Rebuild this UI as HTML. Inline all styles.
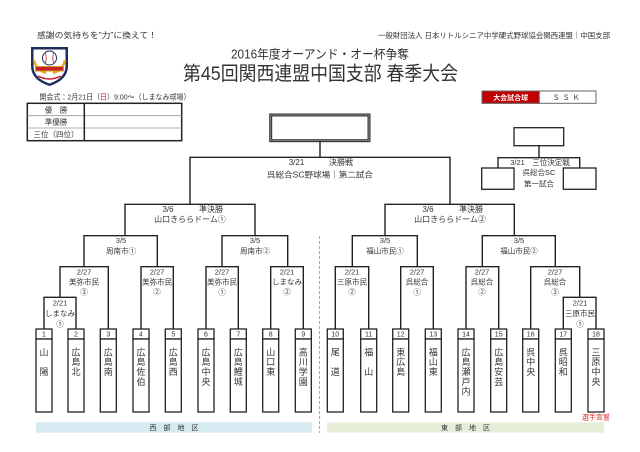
<!DOCTYPE html>
<html><head><meta charset="utf-8">
<style>
html,body{margin:0;padding:0;background:#fff;}
svg{display:block;}
text{font-family:"Liberation Sans","Noto Sans CJK JP",sans-serif;fill:#333;}
</style></head>
<body>
<svg width="640" height="452" viewBox="0 0 640 452" xmlns="http://www.w3.org/2000/svg">
<rect width="640" height="452" fill="#fff"/>

<!-- Header texts -->
<text x="37" y="38" font-size="8" textLength="120" lengthAdjust="spacingAndGlyphs">感謝の気持ちを”力”に換えて！</text>
<text x="378" y="38" font-size="7.5" textLength="232" lengthAdjust="spacingAndGlyphs">一般財団法人 日本リトルシニア中学硬式野球協会関西連盟｜中国支部</text>
<text x="231" y="58.5" font-size="12.5" textLength="178" lengthAdjust="spacingAndGlyphs" fill="#222">2016年度オーアンド・オー杯争奪</text>
<text x="183" y="80" font-size="19.5" textLength="275" lengthAdjust="spacingAndGlyphs" fill="#111">第45回関西連盟中国支部 春季大会</text>

<!-- Logo -->
<g>
  <path d="M31,47 L68,47 L68,66 Q68,80 49.5,86 Q31,80 31,66 Z" fill="#1d2d5c"/>
  <path d="M33.5,49.5 L65.5,49.5 L65.5,66 Q65.5,78 49.5,83.5 Q33.5,78 33.5,66 Z" fill="#fff"/>
  <circle cx="49.5" cy="58" r="7" fill="#fff" stroke="#1d2d5c" stroke-width="1"/>
  <path d="M45,52.5 Q47.5,58 45,63.5 M54,52.5 Q51.5,58 54,63.5" stroke="#c8202a" stroke-width="0.8" fill="none"/>
  <path d="M34,60 Q36,70 46,73 M65,60 Q63,70 53,73" stroke="#e0b020" stroke-width="2.5" fill="none"/>
  <rect x="35" y="66" width="29" height="5.5" fill="#d4a017"/>
  <rect x="36" y="67" width="27" height="3.5" fill="#c8202a"/>
  <path d="M38,76 Q49.5,82 61,76" stroke="#c8202a" stroke-width="1.5" fill="none"/>
</g>

<!-- 開会式 -->
<text x="39.5" y="99.5" font-size="7.5" textLength="151" lengthAdjust="spacingAndGlyphs">開会式：2月21日（<tspan fill="#d00">日</tspan>）9:00～（しまなみ球場）</text>

<!-- Results table -->
<rect x="27.3" y="103.3" width="154.4" height="37.4" fill="#fff" stroke="#222" stroke-width="1.5"/>
<line x1="27.3" y1="115.7" x2="181.7" y2="115.7" stroke="#999" stroke-width="0.8"/>
<line x1="27.3" y1="128" x2="181.7" y2="128" stroke="#999" stroke-width="0.8"/>
<line x1="84.3" y1="103.3" x2="84.3" y2="140.7" stroke="#222" stroke-width="1.5"/>
<text x="56" y="112.3" font-size="7.5" text-anchor="middle">優　勝</text>
<text x="56" y="124.7" font-size="7.5" text-anchor="middle">準優勝</text>
<text x="56" y="137" font-size="7.5" text-anchor="middle">三位（四位）</text>

<!-- Ball box -->
<rect x="482" y="91" width="114" height="12.3" fill="#fff" stroke="#666" stroke-width="1"/>
<rect x="482" y="91" width="57.3" height="12.3" fill="#c00000" stroke="#666" stroke-width="1"/>
<text x="510.7" y="99.8" font-size="7" text-anchor="middle" font-weight="bold" style="fill:#fff">大会試合球</text>
<text x="567.7" y="99.8" font-size="7" text-anchor="middle" letter-spacing="3" fill="#555">ＳＳＫ</text>

<!-- Final box -->
<rect x="270.7" y="115" width="98.3" height="25.7" fill="#fff" stroke="#333" stroke-width="3"/>
<rect x="270.7" y="115" width="98.3" height="25.7" fill="none" stroke="#999" stroke-width="0.8"/>

<!-- Third place -->
<rect x="514" y="127.7" width="49.7" height="18" fill="#fff" stroke="#222" stroke-width="1.3"/>
<rect x="481.7" y="168" width="32.3" height="21.3" fill="#fff" stroke="#222" stroke-width="1.3"/>
<rect x="563.3" y="168" width="32.7" height="21.3" fill="#fff" stroke="#222" stroke-width="1.3"/>
<text x="540" y="165" font-size="7.5" text-anchor="middle">3/21　三位決定戦</text>
<text x="539" y="175" font-size="7.5" text-anchor="middle">呉総合SC</text>
<text x="539" y="186.5" font-size="7.5" text-anchor="middle">第一試合</text>

<!-- Dashed divider -->
<line x1="319.5" y1="236" x2="319.5" y2="433" stroke="#aaa" stroke-width="1" stroke-dasharray="3 2"/>

<!-- Bracket lines -->
<path fill="none" stroke="#222" stroke-width="1.4" d="
M320,140.7 V157.3 M190,204.3 V157.3 H450 V204.3
M125,235.7 V204.3 H255 V235.7
M385,235.7 V204.3 H514.3 V235.7
M84,266.7 V235.7 H157.3 V266.7
M222,266.7 V235.7 H287.7 V266.7
M352.3,266.7 V235.7 H417.3 V266.7
M482.3,266.7 V235.7 H555.3 V266.7
M60,297.3 V266.7 H108.3 V329
M141,329 V266.7 H173.3 V329
M206,329 V266.7 H238.3 V329
M270.7,329 V266.7 H303.3 V329
M335.3,329 V266.7 H368.7 V329
M400.7,329 V266.7 H433.3 V329
M466,329 V266.7 H498.7 V329
M530.7,329 V266.7 H579.7 V297.3
M44,329 V297.3 H76 V329
M563.3,329 V297.3 H596 V329
M539,145.7 V157.7 M498,168 V157.7 H579.7 V168
"/>

<!-- Final labels -->
<text x="296.5" y="165" font-size="8" text-anchor="middle">3/21</text>
<text x="341" y="165" font-size="8" text-anchor="middle">決勝戦</text>
<text x="320" y="177.3" font-size="8" text-anchor="middle" textLength="106" lengthAdjust="spacingAndGlyphs">呉総合SC野球場｜第二試合</text>

<!-- Semifinal labels -->
<text x="168" y="212" font-size="8" text-anchor="middle">3/6</text>
<text x="211" y="212" font-size="8" text-anchor="middle">準決勝</text>
<text x="190" y="222.2" font-size="8" text-anchor="middle">山口きららドーム①</text>
<text x="428" y="212" font-size="8" text-anchor="middle">3/6</text>
<text x="471" y="212" font-size="8" text-anchor="middle">準決勝</text>
<text x="450" y="222.2" font-size="8" text-anchor="middle">山口きららドーム②</text>

<!-- Level 3 labels -->
<g font-size="7.5" text-anchor="middle">
<text x="121" y="242.8">3/5</text><text x="121" y="253.5">周南市①</text>
<text x="255" y="242.8">3/5</text><text x="255" y="253.5">周南市②</text>
<text x="385" y="242.8">3/5</text><text x="385" y="253.5">福山市民①</text>
<text x="519" y="242.8">3/5</text><text x="519" y="253.5">福山市民②</text>
</g>

<!-- Level 2 labels -->
<g font-size="7.5" text-anchor="middle">
<text x="84" y="274.5">2/27</text><text x="84" y="284.5">美弥市民</text><text x="84" y="294.5">③</text>
<text x="157" y="274.5">2/27</text><text x="157" y="284.5">美弥市民</text><text x="157" y="294.5">②</text>
<text x="222" y="274.5">2/27</text><text x="222" y="284.5">美弥市民</text><text x="222" y="294.5">①</text>
<text x="287" y="274.5">2/21</text><text x="287" y="284.5">しまなみ</text><text x="287" y="294.5">②</text>
<text x="352" y="274.5">2/21</text><text x="352" y="284.5">三原市民</text><text x="352" y="294.5">②</text>
<text x="417" y="274.5">2/27</text><text x="417" y="284.5">呉総合</text><text x="417" y="294.5">①</text>
<text x="482" y="274.5">2/27</text><text x="482" y="284.5">呉総合</text><text x="482" y="294.5">②</text>
<text x="555" y="274.5">2/27</text><text x="555" y="284.5">呉総合</text><text x="555" y="294.5">③</text>
</g>

<!-- Level 1 labels -->
<g font-size="7.5" text-anchor="middle">
<text x="60" y="305.5">2/21</text><text x="60" y="315.8">しまなみ</text><text x="60" y="326.5">①</text>
<text x="580" y="305.5">2/21</text><text x="580" y="315.8">三原市民</text><text x="580" y="326.5">①</text>
</g>

<!-- Team boxes -->
<g fill="#fff" stroke="#222" stroke-width="1.3">
<rect x="36" y="329" width="16" height="10"/><rect x="36" y="339" width="16" height="73"/>
<rect x="68" y="329" width="16" height="10"/><rect x="68" y="339" width="16" height="73"/>
<rect x="100.3" y="329" width="16" height="10"/><rect x="100.3" y="339" width="16" height="73"/>
<rect x="133" y="329" width="16" height="10"/><rect x="133" y="339" width="16" height="73"/>
<rect x="165.3" y="329" width="16" height="10"/><rect x="165.3" y="339" width="16" height="73"/>
<rect x="198" y="329" width="16" height="10"/><rect x="198" y="339" width="16" height="73"/>
<rect x="230.3" y="329" width="16" height="10"/><rect x="230.3" y="339" width="16" height="73"/>
<rect x="262.7" y="329" width="16" height="10"/><rect x="262.7" y="339" width="16" height="73"/>
<rect x="295.3" y="329" width="16" height="10"/><rect x="295.3" y="339" width="16" height="73"/>
<rect x="327.3" y="329" width="16" height="10"/><rect x="327.3" y="339" width="16" height="73"/>
<rect x="360.7" y="329" width="16" height="10"/><rect x="360.7" y="339" width="16" height="73"/>
<rect x="392.7" y="329" width="16" height="10"/><rect x="392.7" y="339" width="16" height="73"/>
<rect x="425.3" y="329" width="16" height="10"/><rect x="425.3" y="339" width="16" height="73"/>
<rect x="458" y="329" width="16" height="10"/><rect x="458" y="339" width="16" height="73"/>
<rect x="490.7" y="329" width="16" height="10"/><rect x="490.7" y="339" width="16" height="73"/>
<rect x="522.7" y="329" width="16" height="10"/><rect x="522.7" y="339" width="16" height="73"/>
<rect x="555.3" y="329" width="16" height="10"/><rect x="555.3" y="339" width="16" height="73"/>
<rect x="588" y="329" width="16" height="10"/><rect x="588" y="339" width="16" height="73"/>
</g>

<!-- Team numbers -->
<g font-size="7" text-anchor="middle" fill="#555">
<text x="44" y="336.6">1</text><text x="76" y="336.6">2</text><text x="108.3" y="336.6">3</text>
<text x="141" y="336.6">4</text><text x="173.3" y="336.6">5</text><text x="206" y="336.6">6</text>
<text x="238.3" y="336.6">7</text><text x="270.7" y="336.6">8</text><text x="303.3" y="336.6">9</text>
<text x="335.3" y="336.6">10</text><text x="368.7" y="336.6">11</text><text x="400.7" y="336.6">12</text>
<text x="433.3" y="336.6">13</text><text x="466" y="336.6">14</text><text x="498.7" y="336.6">15</text>
<text x="530.7" y="336.6">16</text><text x="563.3" y="336.6">17</text><text x="596" y="336.6">18</text>
</g>

<!-- Team names (vertical) -->
<g font-size="9" text-anchor="middle" fill="#222">
<text x="44" y="355.4">山</text><text x="44" y="375">陽</text>
<text x="76" y="355.4">広</text><text x="76" y="365.2">島</text><text x="76" y="375">北</text>
<text x="108.3" y="355.4">広</text><text x="108.3" y="365.2">島</text><text x="108.3" y="375">南</text>
<text x="141" y="355.4">広</text><text x="141" y="365.2">島</text><text x="141" y="375">佐</text><text x="141" y="384.8">伯</text>
<text x="173.3" y="355.4">広</text><text x="173.3" y="365.2">島</text><text x="173.3" y="375">西</text>
<text x="206" y="355.4">広</text><text x="206" y="365.2">島</text><text x="206" y="375">中</text><text x="206" y="384.8">央</text>
<text x="238.3" y="355.4">広</text><text x="238.3" y="365.2">島</text><text x="238.3" y="375">鯉</text><text x="238.3" y="384.8">城</text>
<text x="270.7" y="355.4">山</text><text x="270.7" y="365.2">口</text><text x="270.7" y="375">東</text>
<text x="303.3" y="355.4">高</text><text x="303.3" y="365.2">川</text><text x="303.3" y="375">学</text><text x="303.3" y="384.8">園</text>
<text x="335.3" y="355.4">尾</text><text x="335.3" y="375">道</text>
<text x="368.7" y="355.4">福</text><text x="368.7" y="375">山</text>
<text x="400.7" y="355.4">東</text><text x="400.7" y="365.2">広</text><text x="400.7" y="375">島</text>
<text x="433.3" y="355.4">福</text><text x="433.3" y="365.2">山</text><text x="433.3" y="375">東</text>
<text x="466" y="355.4">広</text><text x="466" y="365.2">島</text><text x="466" y="375">瀬</text><text x="466" y="384.8">戸</text><text x="466" y="394.6">内</text>
<text x="498.7" y="355.4">広</text><text x="498.7" y="365.2">島</text><text x="498.7" y="375">安</text><text x="498.7" y="384.8">芸</text>
<text x="530.7" y="355.4">呉</text><text x="530.7" y="365.2">中</text><text x="530.7" y="375">央</text>
<text x="563.3" y="355.4">呉</text><text x="563.3" y="365.2">昭</text><text x="563.3" y="375">和</text>
<text x="596" y="355.4">三</text><text x="596" y="365.2">原</text><text x="596" y="375">中</text><text x="596" y="384.8">央</text>
</g>

<!-- 選手宣誓 -->
<text x="596" y="419.5" font-size="7" text-anchor="middle" style="fill:#d03030">選手宣誓</text>

<!-- Region bars -->
<rect x="36" y="422.3" width="276" height="10.4" fill="#d6eaf1"/>
<text x="174" y="430" font-size="7" text-anchor="middle" fill="#444">西　部　地　区</text>
<rect x="327" y="422.3" width="277" height="10.4" fill="#e6eed9"/>
<text x="465.5" y="430" font-size="7" text-anchor="middle" fill="#444">東　部　地　区</text>

</svg>
</body></html>
